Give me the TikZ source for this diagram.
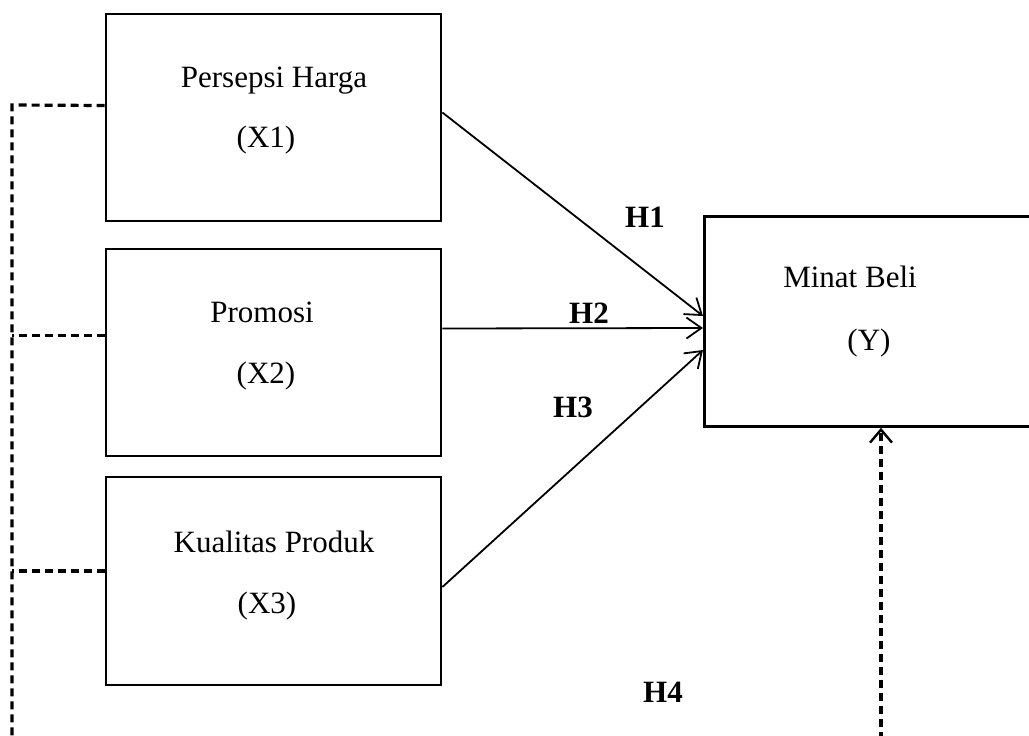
\documentclass[tikz,border=0pt]{standalone}
\usepackage{fontspec}
\setmainfont{Liberation Serif}
\usetikzlibrary{arrows.meta,calc}
\begin{document}
\begin{tikzpicture}[x=1pt,y=-1pt,
  box/.style={draw,line width=2.8pt,rectangle,inner sep=0pt,minimum width=335pt,minimum height=207pt},
  lbl/.style={anchor=base,inner sep=0pt,font=\fontsize{31}{36}\selectfont},
  hlbl/.style={inner sep=0pt,font=\fontsize{31}{36}\selectfont\bfseries},
  arr/.style={line width=1.8pt,-{Straight Barb[length=15pt,width=21pt,line width=1.8pt]}},
  dsh/.style={line width=3.2pt,dash pattern=on 8pt off 5pt},
  darr/.style={dsh,-{Straight Barb[length=13pt,width=22pt,line width=2.4pt]}}]
\clip (0,0) rectangle (1029,736);
\fill[white] (0,0) rectangle (1029,736);
% boxes
\node[box] (X1) at (273.5,117.5) {};
\node[box] (X2) at (273.5,352.5) {};
\node[box,minimum height=208pt] (X3) at (273.5,581) {};
\node[box,minimum width=400pt,minimum height=210pt,anchor=north west] (Y) at (703,215) {};
% texts
\node[lbl] (t1a) at (274,87) {Persepsi Harga};
\node[lbl] (t1b) at (266,147) {(X1)};
\node[lbl] (t2a) at (262,322) {Promosi};
\node[lbl] (t2b) at (266,383) {(X2)};
\node[lbl] (t3a) at (274,552) {Kualitas Produk};
\node[lbl] (t3b) at (267,613) {(X3)};
\node[lbl] (tya) at (850,287) {Minat Beli};
\node[lbl] (tyb) at (869,350) {(Y)};
% hypothesis labels
\node[hlbl] (H1) at (645,217) {H1};
\node[hlbl] (H2) at (589,313) {H2};
\node[hlbl] (H3) at (573,407) {H3};
\node[hlbl] (H4) at (663,692) {H4};
% arrows
\draw[arr] ($(X1.east)+(0,-5)$) -- ($(Y.west |- 0,316)$);
\draw[arr] ($(X2.east)+(0,-24)$) -- ($(Y.west |- 0,328)$);
\draw[arr] ($(X3.east)+(0,6)$) -- ($(Y.west |- 0,350)$);
% dashed left bracket
\coordinate (LT) at (12,105);
\coordinate (LB) at (12,740);
\draw[dsh] ($(X1.west)+(0,-12)$) -- (LT) -- (LB);
\draw[dsh] ($(X2.west)+(0,-17)$) -- (12,335.5);
\draw[dsh] ($(X3.west)+(0,-10)$) -- (12,571);
% dashed arrow to Y
\coordinate (RB) at (881,740);
\draw[darr] (RB) -- (Y.south west -| RB);
\end{tikzpicture}
\end{document}
